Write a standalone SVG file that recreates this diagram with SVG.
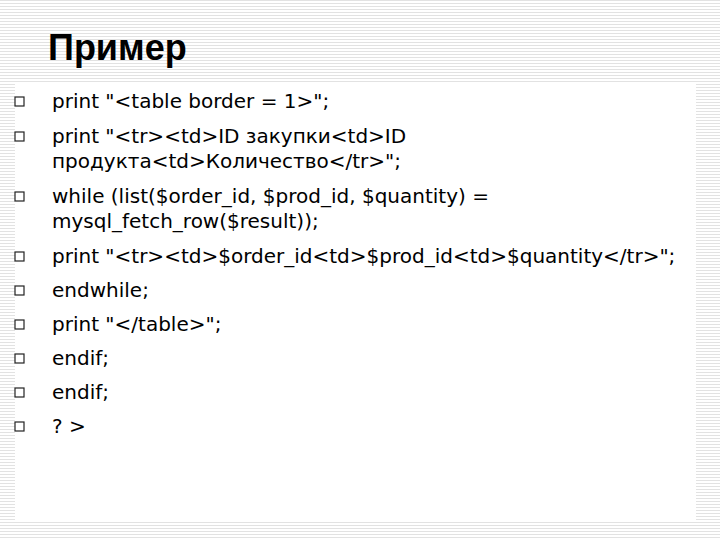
<svg xmlns="http://www.w3.org/2000/svg" width="720" height="540" viewBox="0 0 720 540">
<defs>
<pattern id="st" width="4" height="3" patternUnits="userSpaceOnUse"><rect width="4" height="3" fill="#fff"/><rect width="4" height="1" fill="#e2e2e2"/></pattern>
<style>
.t{font-family:'DejaVu Sans',sans-serif;font-size:20px;fill:#000}
.b{fill:#fff;stroke:#222;stroke-width:1.2}
</style>
</defs>
<rect width="720" height="540" fill="url(#st)"/>
<rect x="15" y="83" width="681" height="438" fill="#fff"/>
<text x="48" y="60" style="font-family:'Liberation Sans',Arial,sans-serif;font-size:36px;font-weight:bold">Пример</text>
<g id="items">
<rect class="b" x="15" y="97" width="9" height="9"/><text class="t" x="52" y="108">print "&lt;table border = 1&gt;";</text>
<rect class="b" x="15" y="132" width="9" height="9"/><text class="t" x="52" y="143">print "&lt;tr&gt;&lt;td&gt;ID закупки&lt;td&gt;ID</text><text class="t" x="52" y="168">продукта&lt;td&gt;Количество&lt;/tr&gt;";</text>
<rect class="b" x="15" y="192" width="9" height="9"/><text class="t" x="52" y="203">while (list($order_id, $prod_id, $quantity) =</text><text class="t" x="52" y="228">mysql_fetch_row($result));</text>
<rect class="b" x="15" y="252" width="9" height="9"/><text class="t" x="52" y="263">print "&lt;tr&gt;&lt;td&gt;$order_id&lt;td&gt;$prod_id&lt;td&gt;$quantity&lt;/tr&gt;";</text>
<rect class="b" x="15" y="286" width="9" height="9"/><text class="t" x="52" y="297">endwhile;</text>
<rect class="b" x="15" y="320" width="9" height="9"/><text class="t" x="52" y="331">print "&lt;/table&gt;";</text>
<rect class="b" x="15" y="354" width="9" height="9"/><text class="t" x="52" y="365">endif;</text>
<rect class="b" x="15" y="388" width="9" height="9"/><text class="t" x="52" y="399">endif;</text>
<rect class="b" x="15" y="422" width="9" height="9"/><text class="t" x="52" y="433">? &gt;</text>
</g>
</svg>
